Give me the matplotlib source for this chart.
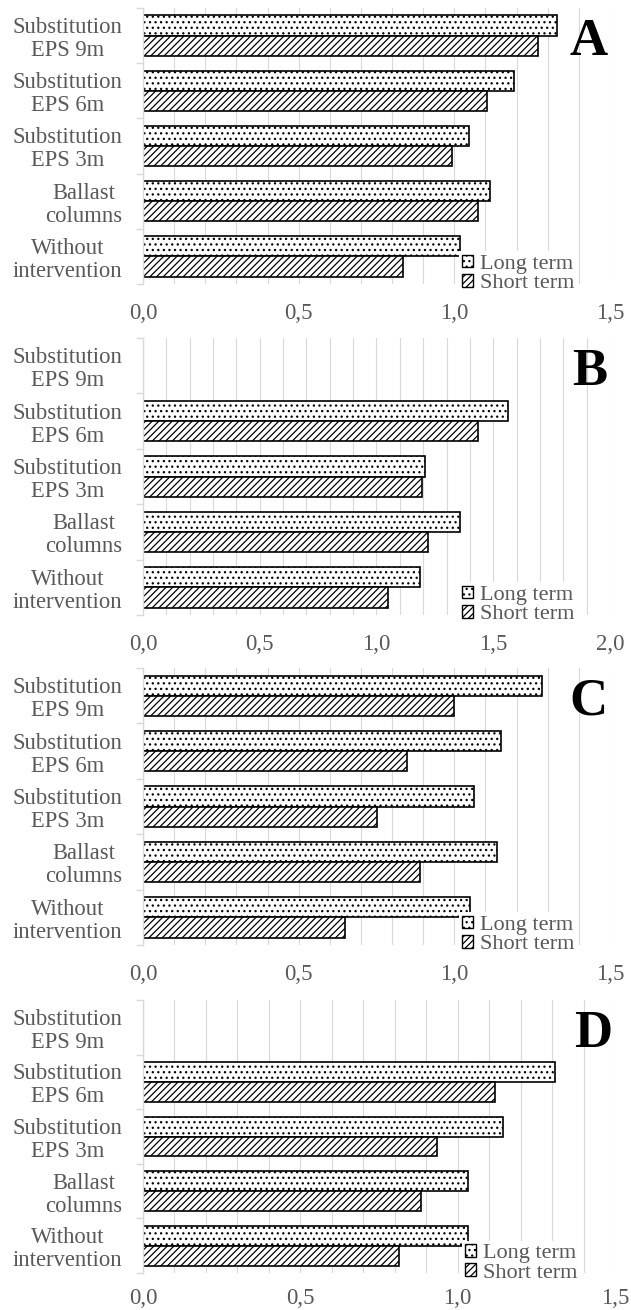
import numpy as np
import matplotlib
matplotlib.use("Agg")
import matplotlib.pyplot as plt
from matplotlib.patches import Patch
from matplotlib.ticker import FuncFormatter, MultipleLocator

plt.rcParams['font.family'] = ['Liberation Serif', 'DejaVu Serif']
plt.rcParams['hatch.linewidth'] = 0.9

categories = ["Substitution\nEPS 9m", "Substitution\nEPS 6m", "Substitution\nEPS 3m",
              "Ballast\ncolumns", "Without\nintervention"]
panel_labels = ["A", "B", "C", "D"]
series_names = ["Long term", "Short term"]

# values per panel, in category order (top to bottom); None = no bar
long_A = [1.330, 1.192, 1.047, 1.114, 1.017]
short_A = [1.268, 1.105, 0.992, 1.077, 0.835]
long_B = [None, 1.565, 1.209, 1.356, 1.188]
short_B = [None, 1.436, 1.197, 1.219, 1.049]
long_C = [1.281, 1.151, 1.064, 1.138, 1.051]
short_C = [0.999, 0.848, 0.752, 0.891, 0.648]
long_D = [None, 1.309, 1.143, 1.034, 1.034]
short_D = [None, 1.120, 0.933, 0.882, 0.815]
xmax = [1.5, 2.0, 1.5, 1.5]

panels = [(long_A, short_A), (long_B, short_B), (long_C, short_C), (long_D, short_D)]
positions = [
    [0.2266, 0.7832, 0.7401, 0.2107],
    [0.2266, 0.5305, 0.7401, 0.2115],
    [0.2266, 0.2786, 0.7401, 0.2114],
    [0.2266, 0.0282, 0.7480, 0.2084],
]
xpads = [14, 14, 14, 11]

GRAY = '#595959'
GRID = '#d9d9d9'
hatch_long = '...'
hatch_short = '/////'
h = 0.365

fig = plt.figure(figsize=(6.31, 13.10), dpi=100)

for k, ((lv, sv), pos) in enumerate(zip(panels, positions)):
    ax = fig.add_axes(pos)
    y = np.arange(len(categories))
    for i, (l, s) in enumerate(zip(lv, sv)):
        if l is not None:
            ax.barh(y[i] - h / 2, l, height=h, color='white', edgecolor='black',
                    linewidth=1.2, hatch=hatch_long, zorder=2)
        if s is not None:
            ax.barh(y[i] + h / 2, s, height=h, color='white', edgecolor='black',
                    linewidth=1.2, hatch=hatch_short, zorder=2)
    ax.set_ylim(len(categories) - 0.5, -0.5)
    ax.set_xlim(0, xmax[k])
    ax.set_yticks(y)
    ax.set_yticklabels(categories, multialignment='center', color=GRAY, fontsize=16.3,
                       linespacing=1.12)
    ax.set_yticks(np.arange(-0.5, len(categories)), minor=True)
    ax.tick_params(axis='y', which='major', length=0, pad=15)
    ax.tick_params(axis='y', which='minor', length=5, color=GRID, width=1)
    ax.xaxis.set_major_locator(MultipleLocator(0.5))
    ax.xaxis.set_minor_locator(MultipleLocator(0.1))
    ax.xaxis.set_major_formatter(FuncFormatter(lambda v, p: f"{v:.1f}".replace('.', ',')))
    ax.tick_params(axis='x', which='both', length=0, pad=xpads[k], labelcolor=GRAY,
                   labelsize=16.5)
    ax.grid(axis='x', which='both', color=GRID, linewidth=0.8)
    ax.set_axisbelow(True)
    for side in ['top', 'right', 'bottom']:
        ax.spines[side].set_visible(False)
    ax.spines['left'].set_color(GRID)
    ax.spines['left'].set_linewidth(1)

    handles = [Patch(facecolor='white', edgecolor='black', hatch=hatch_long, linewidth=1.0),
               Patch(facecolor='white', edgecolor='black', hatch=hatch_short, linewidth=1.0)]
    leg = ax.legend(handles, series_names, loc='upper left', bbox_to_anchor=(0.676, 0.118),
                    frameon=True, fancybox=False, framealpha=1, edgecolor='none',
                    facecolor='white', fontsize=16, handlelength=0.5, handleheight=0.5,
                    handletextpad=0.3, labelspacing=0.0, borderpad=0.15,
                    borderaxespad=0.0, labelcolor=GRAY)
    leg.set_zorder(5)

    ax.text(0.995, 0.965, panel_labels[k], transform=ax.transAxes, ha='right', va='top',
            fontsize=38, fontweight='bold', color='black')

fig.savefig('out.png', dpi=100)
